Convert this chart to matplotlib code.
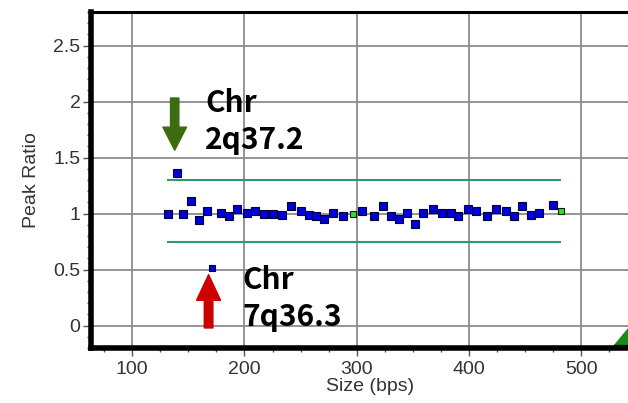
import matplotlib
matplotlib.use("Agg")
import matplotlib.pyplot as plt
from matplotlib.ticker import MultipleLocator, FuncFormatter

# fragment sizes (bps) and peak ratios of the probes
sizes = [132, 139.6, 145.5, 152, 159.7, 166.8, 178.8, 186.2, 193, 202, 209.4,
         217.6, 225.1, 233.4, 241.2, 250.1, 257.2, 263.7, 271.1, 278.6, 288.1,
         304.7, 315.1, 323.2, 330.3, 337.4, 344.6, 352.2, 358.8, 367.7, 376,
         384.3, 390.6, 398.9, 406.3, 415.9, 424.2, 433.1, 440.2, 447.1, 455.1,
         462.2, 474.7]
ratios = [1.0, 1.36, 1.0, 1.11, 0.945, 1.027, 1.005, 0.975, 1.045, 1.005, 1.027,
          0.995, 0.995, 0.99, 1.065, 1.027, 0.99, 0.975, 0.955, 1.009, 0.98,
          1.027, 0.98, 1.065, 0.975, 0.955, 1.009, 0.905, 1.005, 1.045, 1.005,
          1.005, 0.975, 1.045, 1.027, 0.975, 1.045, 1.027, 0.975, 1.067, 0.99,
          1.009, 1.08]

# deleted probe (7q36.3)
loss_size = [171]
loss_ratio = [0.518]

# control probes (green)
ctrl_sizes = [296.4, 482.1]
ctrl_ratios = [0.995, 1.027]

# threshold lines
upper_thr = 1.3
lower_thr = 0.75
thr_start, thr_end = 131, 482

# size marker at the right edge
marker_size_bp = [546.3]
marker_ratio = [-0.069]

W, H = 628, 403
fig = plt.figure(figsize=(W / 100, H / 100), dpi=100)
ax = fig.add_axes([91 / W, 55 / H, 0.8876, 336 / H])

txt_color = "#333333"
font = "Liberation Sans"

ax.set_xlim(63.2, 560)
ax.set_ylim(-0.2, 2.8)

ax.xaxis.set_major_locator(MultipleLocator(100))
ax.xaxis.set_minor_locator(MultipleLocator(25))
ax.yaxis.set_major_locator(MultipleLocator(0.5))
ax.yaxis.set_minor_locator(MultipleLocator(0.1))
ax.yaxis.set_major_formatter(FuncFormatter(lambda v, p: f"{v:g}"))

ax.grid(True, which="major", color="#8c8c8c", linewidth=1.3)
ax.set_axisbelow(True)

for side in ["left", "bottom"]:
    ax.spines[side].set_linewidth(4)
ax.spines["top"].set_linewidth(2.2)
ax.spines["right"].set_visible(False)

ax.tick_params(which="major", length=5.5, width=1, color="#555555",
               labelsize=14, labelcolor=txt_color, pad=2)
ax.tick_params(which="minor", length=3, width=1, color="#555555")
ax.tick_params(axis="x", which="major", pad=4)
for lbl in ax.get_xticklabels() + ax.get_yticklabels():
    lbl.set_fontfamily(font)

ax.set_xlabel("Size (bps)", fontsize=14, color=txt_color, family=font, labelpad=0)
ax.set_ylabel("Peak Ratio", fontsize=14, color=txt_color, family=font, labelpad=10)

# threshold lines
ax.hlines([upper_thr, lower_thr], thr_start, thr_end, color="#2f9a6a", linewidth=1.5, zorder=3)

# probes
ax.plot(sizes, ratios, "s", color="#0000dd", markeredgecolor="#000033",
        markersize=5.8, markeredgewidth=0.8, zorder=4)
ax.plot(loss_size, loss_ratio, "s", color="#0000dd", markeredgecolor="#000033",
        markersize=4.6, markeredgewidth=0.8, zorder=4)
ax.plot(ctrl_sizes, ctrl_ratios, "s", color="#33dd33", markeredgecolor="#002200",
        markersize=4.6, markeredgewidth=0.8, zorder=4)

tri = [(-1, -0.6), (1, -0.6), (0, 0.6)]
ax.plot(marker_size_bp, marker_ratio, marker=tri, linestyle="none", color="#1a8a1a",
        markeredgecolor="#003300", markersize=28.8, zorder=2)

# annotations
anno_font = ["Noto Sans CJK KR", "DejaVu Sans"]
ax.annotate("", xy=(137.8, 1.566), xytext=(137.8, 2.032),
            arrowprops=dict(arrowstyle="simple,head_length=16.6,head_width=17,tail_width=6",
                            color="#3d6b10", shrinkA=0, shrinkB=0, mutation_scale=1))
ax.text(164.8, 1.906, "Chr", fontsize=21.5, fontweight="bold", family=anno_font, va="baseline")
ax.text(164.8, 1.574, "2q37.2", fontsize=21.5, fontweight="bold", family=anno_font, va="baseline")

ax.annotate("", xy=(168, 0.455), xytext=(168, -0.021),
            arrowprops=dict(arrowstyle="simple,head_length=18.5,head_width=17.3,tail_width=6.2",
                            color="#cc0000", shrinkA=0, shrinkB=0, mutation_scale=1))
ax.text(198.4, 0.330, "Chr", fontsize=21.5, fontweight="bold", family=anno_font, va="baseline")
ax.text(198.4, -0.004, "7q36.3", fontsize=21.5, fontweight="bold", family=anno_font, va="baseline")

fig.savefig("out.png", dpi=100, facecolor="white")
